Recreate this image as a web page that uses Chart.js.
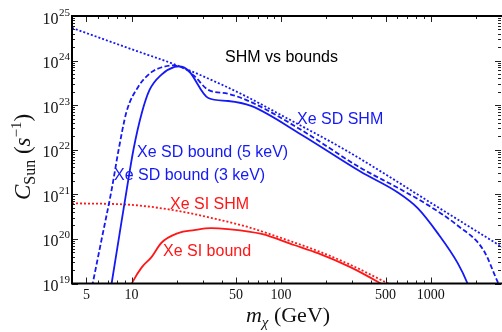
<!DOCTYPE html>
<html><head><meta charset="utf-8">
<script src="https://cdn.jsdelivr.net/npm/chart.js@4"></script>
<style>html,body{margin:0;padding:0;background:#fff;}canvas{display:block}</style>
</head><body>
<canvas id="c" width="502" height="332"></canvas>
<script>
// ---- data ----
const sdShmMass = [4, 10, 20, 40, 60, 100, 270, 500, 1000, 3000];
const sdShmRate = [5.4e24, 1.8e24, 7.9e23, 2.9e23, 1.5e23, 6.0e22, 9.8e21, 2.8e21, 6.5e20, 6.6e19];

const sd3Mass = [5.2, 5.5, 6.3, 7.36, 8.2, 9.26, 11.1, 13.6, 15.8, 19.05, 23.3, 26.3, 32.6, 44.3, 63, 136, 341, 603, 955, 1514, 2256, 2840, 3000];
const sd3Rate = [4e18, 1e19, 9.5e19, 1.26e21, 1e22, 7.1e22, 2.6e23, 5.5e23, 7.0e23, 7.8e23, 6.2e23, 4.5e23, 2.2e23, 1.8e23, 1.17e23, 2.8e22, 3.9e21, 1.4e21, 5.8e20, 2.0e20, 5.6e19, 1e19, 7e18];

const sd5Mass = [7.1, 7.36, 8.32, 9.26, 10.3, 11.7, 13.2, 15.8, 19.4, 20.9, 24, 32.6, 44.3, 63, 136, 341, 603, 819, 1114, 1514, 1765, 1900];
const sd5Rate = [5e18, 1e19, 1.3e20, 1.2e21, 1e22, 6.6e22, 2.2e23, 4.8e23, 7.2e23, 7.4e23, 6.0e23, 1.45e23, 1.24e23, 9.6e22, 2.2e22, 3.2e21, 1.1e21, 4.9e20, 1.35e20, 2.9e19, 1e19, 5e18];

const siShmMass = [4, 10, 20, 35, 60, 100, 180, 300, 500, 700];
const siShmRate = [6.3e20, 5.8e20, 4.3e20, 2.9e20, 1.85e20, 1.05e20, 5.2e19, 2.5e19, 1.07e19, 6.2e18];

const siBoundMass = [9.6, 10.2, 11.7, 13.6, 15.8, 20.5, 26.3, 34, 44, 74, 122, 176, 293, 464, 600];
const siBoundRate = [7e18, 1.1e19, 2.3e19, 3.9e19, 8.1e19, 1.35e20, 1.58e20, 1.75e20, 1.66e20, 1.29e20, 7.3e19, 4.8e19, 2.3e19, 1.0e19, 6e18];

const xTickLabels = [5, 10, 50, 100, 500, 1000];
const yTickExponents = [19, 20, 21, 22, 23, 24, 25];

const labelTexts = ["SHM vs bounds", "Xe SD SHM", "Xe SD bound (5 keV)", "Xe SD bound (3 keV)", "Xe SI SHM", "Xe SI bound"];

// ---- styling ----
const BLUE = 'rgb(20,25,245)';
const RED = 'rgb(255,22,22)';
const SERIF = '"Liberation Serif", "DejaVu Serif", serif';
const SANS = '"Liberation Sans", Arial, sans-serif';

function pts(m, r) { return m.map((v, i) => ({ x: v, y: r[i] })); }

const decor = {
  id: 'decor',
  afterDraw(chart) {
    const ctx = chart.ctx, a = chart.chartArea;
    const xs = chart.scales.x, ys = chart.scales.y;
    ctx.save();
    // ticks
    ctx.strokeStyle = '#222';
    ctx.lineWidth = 1;
    ctx.beginPath();
    for (let e = 0; e <= 3; e++) {
      for (let k = 1; k <= 9; k++) {
        const v = k * Math.pow(10, e);
        if (v < 4 || v > 3000) continue;
        const px = Math.round(xs.getPixelForValue(v)) + 0.5;
        const len = (k === 1 || k === 5) ? 6 : 3;
        ctx.moveTo(px, a.bottom); ctx.lineTo(px, a.bottom - len);
        ctx.moveTo(px, a.top); ctx.lineTo(px, a.top + len);
      }
    }
    for (let e = 19; e <= 24; e++) {
      for (let k = 1; k <= 9; k++) {
        const v = k * Math.pow(10, e);
        const py = Math.round(ys.getPixelForValue(v)) + 0.5;
        const len = k === 1 ? 6 : 3;
        ctx.moveTo(a.left, py); ctx.lineTo(a.left + len, py);
        ctx.moveTo(501, py); ctx.lineTo(501 - len, py);
      }
    }
    ctx.stroke();
    // frame
    ctx.strokeStyle = '#000';
    ctx.lineWidth = 2;
    ctx.strokeRect(a.left, a.top, 520, a.bottom - a.top);

    // x tick labels
    ctx.fillStyle = '#111';
    ctx.font = '14px ' + SERIF;
    ctx.textAlign = 'center';
    ctx.textBaseline = 'alphabetic';
    xTickLabels.forEach(v => ctx.fillText(String(v), xs.getPixelForValue(v), 299));
    // y tick labels
    yTickExponents.forEach(e => {
      const py = ys.getPixelForValue(Math.pow(10, e));
      ctx.font = '16px ' + SERIF;
      ctx.textAlign = 'right';
      ctx.fillText('10', 58.5, py + 7.5);
      ctx.font = '11px ' + SERIF;
      ctx.textAlign = 'left';
      ctx.fillText(String(e), 59, py - 0.5);
    });

    // x title: m_chi (GeV)
    const xParts = [
      { t: 'm', f: 'italic 22px ' + SERIF, dy: 0 },
      { t: 'χ', f: 'italic 15px ' + SERIF, dy: 5 },
      { t: ' (GeV)', f: '22px ' + SERIF, dy: 0 }
    ];
    drawParts(ctx, xParts, 288, 322);

    // y title: C_Sun (s^-1)
    ctx.save();
    ctx.translate(30, 157);
    ctx.rotate(-Math.PI / 2);
    const yParts = [
      { t: 'C', f: 'italic 23px ' + SERIF, dy: 0 },
      { t: 'Sun', f: '16px ' + SERIF, dy: 5 },
      { t: ' (', f: '23px ' + SERIF, dy: 0 },
      { t: 's', f: 'italic 23px ' + SERIF, dy: 0 },
      { t: '−1', f: '15px ' + SERIF, dy: -9 },
      { t: ')', f: '23px ' + SERIF, dy: 0 }
    ];
    drawParts(ctx, yParts, 0, 0);
    ctx.restore();

    // annotations
    ctx.font = '16px ' + SANS;
    ctx.textAlign = 'left';
    ctx.fillStyle = '#000';
    ctx.fillText(labelTexts[0], 225, 62);
    ctx.fillStyle = BLUE;
    ctx.fillText(labelTexts[1], 297, 124);
    ctx.fillText(labelTexts[2], 137, 157);
    ctx.fillText(labelTexts[3], 114, 180);
    ctx.fillStyle = RED;
    ctx.fillText(labelTexts[4], 170, 209);
    ctx.fillText(labelTexts[5], 163, 256);
    ctx.restore();
  }
};

function drawParts(ctx, parts, cx, baseY) {
  let w = 0;
  parts.forEach(p => { ctx.font = p.f; p.w = ctx.measureText(p.t).width; w += p.w; });
  let x = cx - w / 2;
  ctx.textAlign = 'left';
  ctx.textBaseline = 'alphabetic';
  ctx.fillStyle = '#111';
  parts.forEach(p => { ctx.font = p.f; ctx.fillText(p.t, x, baseY + p.dy); x += p.w; });
}

const common = { showLine: true, pointRadius: 0, fill: false, cubicInterpolationMode: 'monotone' };

new Chart(document.getElementById('c'), {
  type: 'scatter',
  data: {
    datasets: [
      Object.assign({ data: pts(sdShmMass, sdShmRate), borderColor: BLUE, borderWidth: 1.8, borderDash: [2, 2] }, common),
      Object.assign({ data: pts(sd3Mass, sd3Rate), borderColor: BLUE, borderWidth: 1.8, borderDash: [5, 2.5] }, common),
      Object.assign({ data: pts(sd5Mass, sd5Rate), borderColor: BLUE, borderWidth: 1.8 }, common),
      Object.assign({ data: pts(siShmMass, siShmRate), borderColor: RED, borderWidth: 1.8, borderDash: [2, 2] }, common),
      Object.assign({ data: pts(siBoundMass, siBoundRate), borderColor: RED, borderWidth: 1.8 }, common)
    ]
  },
  options: {
    responsive: false,
    animation: false,
    devicePixelRatio: 1,
    layout: { padding: { left: 72, right: 0, top: 16, bottom: 48.5 } },
    scales: {
      x: { type: 'logarithmic', min: 4, max: 3000, display: false },
      y: { type: 'logarithmic', min: 1e19, max: 1e25, display: false }
    },
    plugins: { legend: { display: false }, tooltip: { enabled: false } }
  },
  plugins: [decor]
});
</script>
</body></html>
